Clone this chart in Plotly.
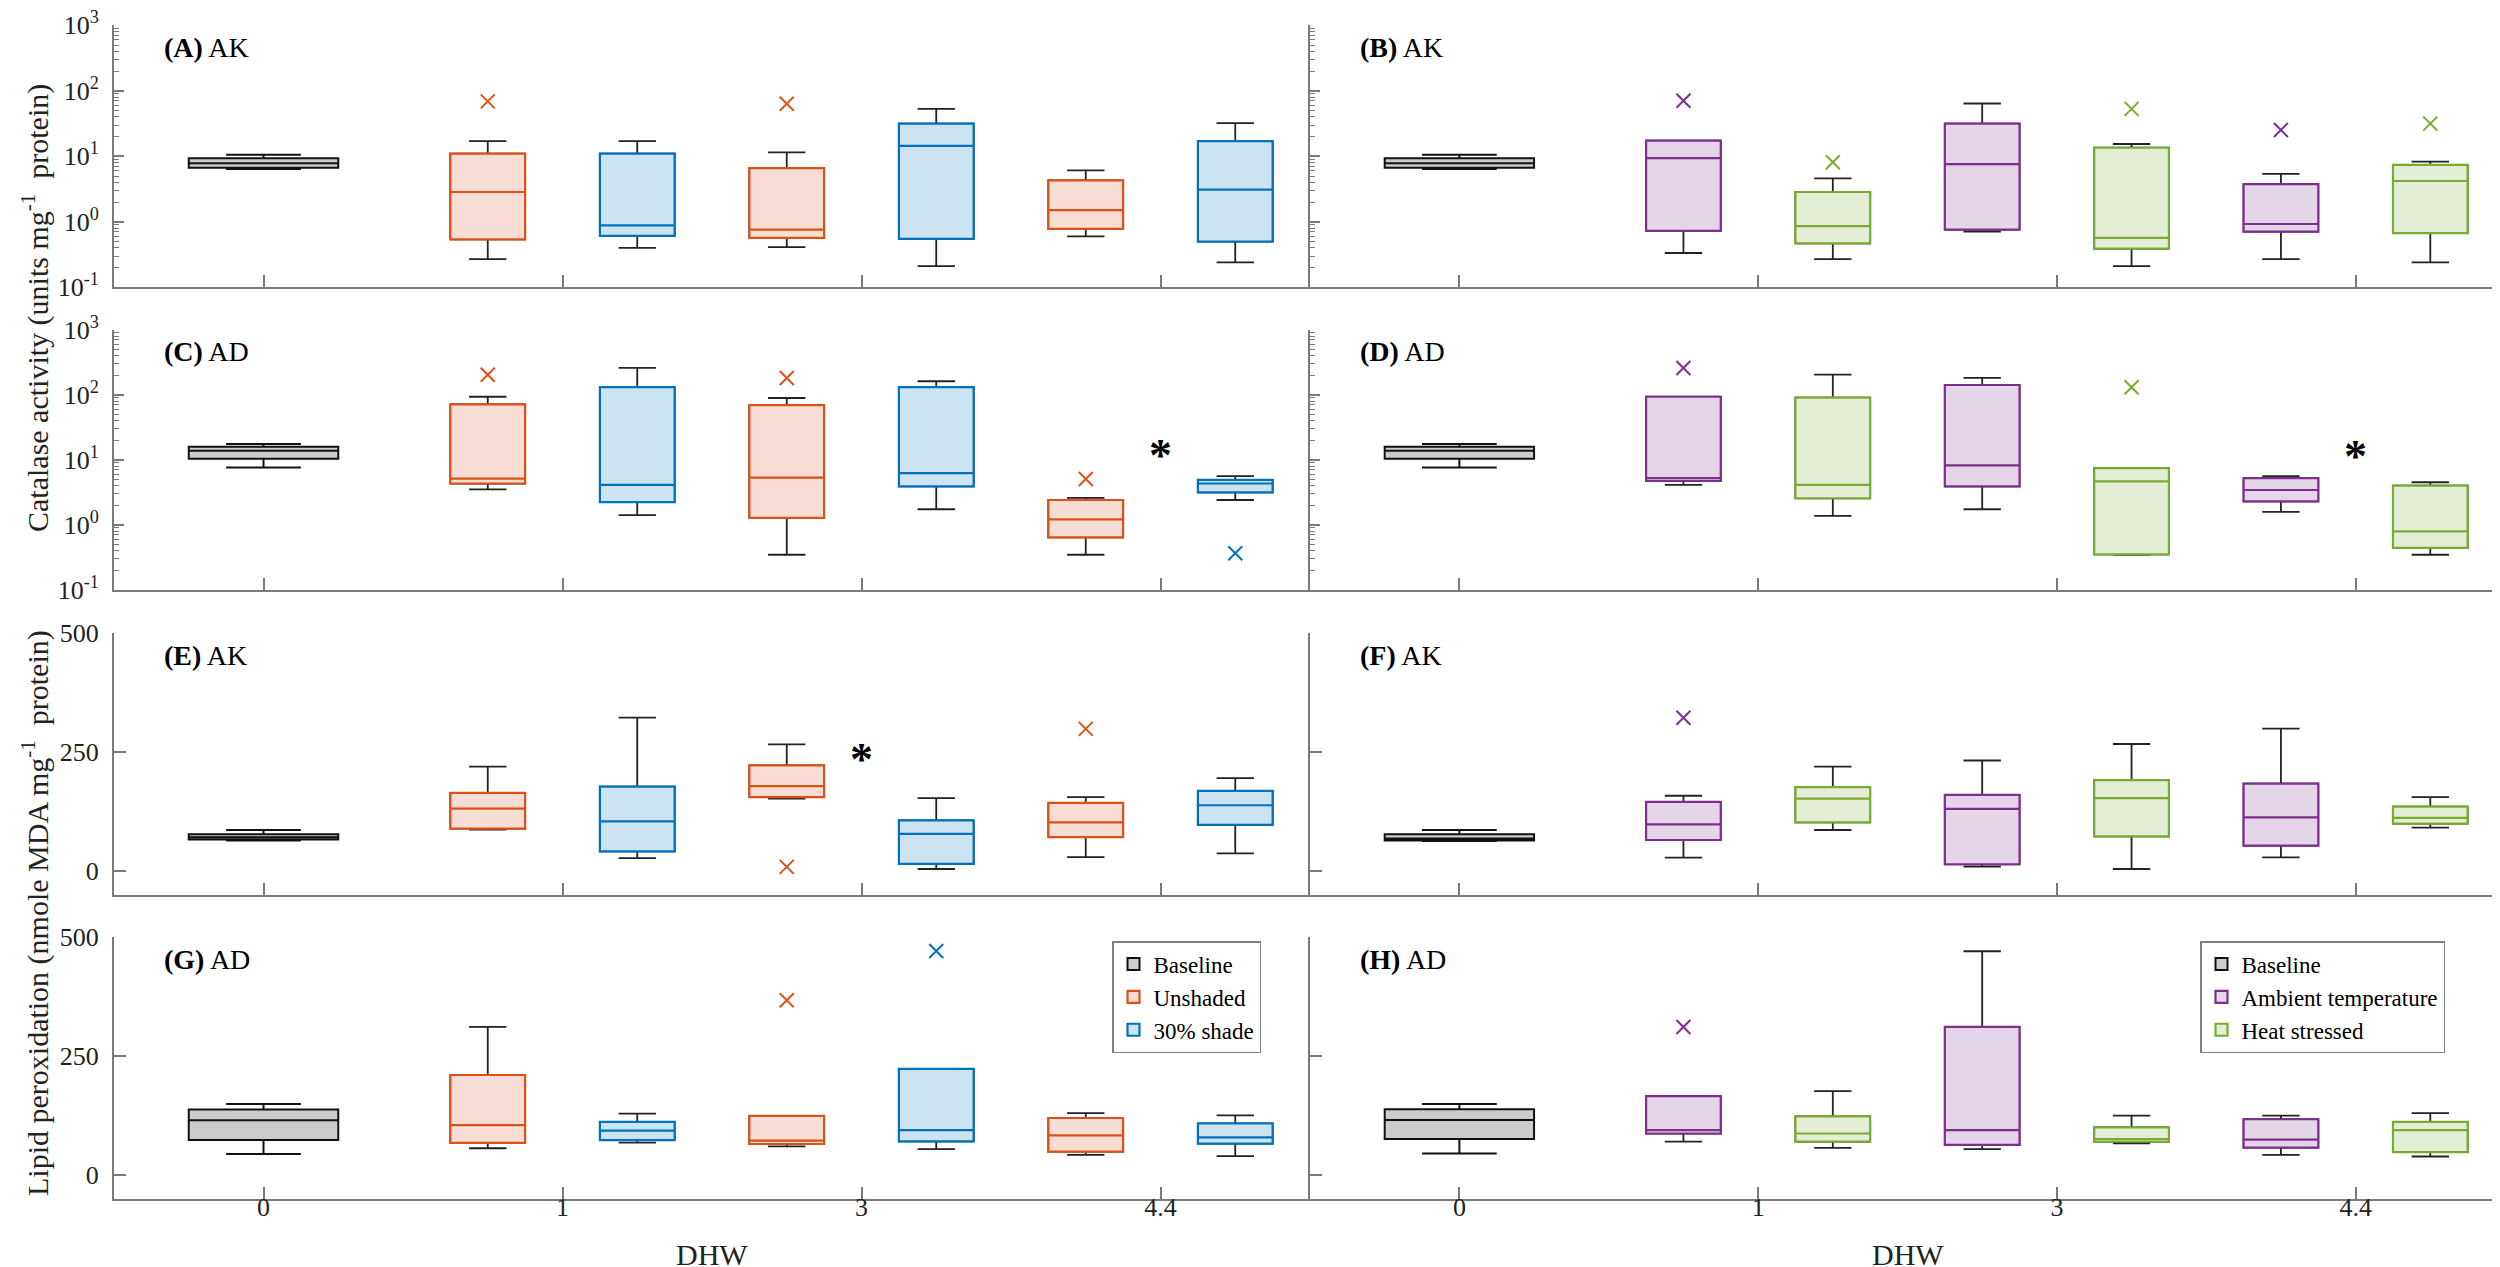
import math
import plotly.graph_objects as go

# ---------------- data ----------------
dhw_labels = ['0', '1', '3', '4.4']
left_groups = ['Baseline', 'Unshaded', '30% shade']
right_groups = ['Baseline', 'Ambient temperature', 'Heat stressed']
panel_letters = ['A', 'B', 'C', 'D', 'E', 'F', 'G', 'H']
panel_species = ['AK', 'AK', 'AD', 'AD', 'AK', 'AK', 'AD', 'AD']

# each box: (lower whisker, Q1, median, Q3, upper whisker)
# order: baseline, trt1@1, trt2@1, trt1@3, trt2@3, trt1@4.4, trt2@4.4
cat_AK_light = [(6.4, 6.7, 7.8, 9.3, 10.6), (0.27, 0.54, 2.85, 11, 17), (0.40, 0.61, 0.885, 11, 17),
                (0.41, 0.57, 0.76, 6.6, 11.5), (0.21, 0.55, 14.4, 31.5, 53), (0.60, 0.78, 1.51, 4.3, 6.1),
                (0.24, 0.50, 3.09, 17, 32)]
cat_AK_temp = [(6.4, 6.7, 7.8, 9.3, 10.6), (0.334, 0.73, 9.4, 17.3, 17.3), (0.27, 0.47, 0.86, 2.85, 4.6),
               (0.71, 0.76, 7.6, 31.5, 64), (0.21, 0.39, 0.57, 13.5, 15.4), (0.27, 0.71, 0.925, 3.77, 5.4),
               (0.24, 0.67, 4.2, 7.4, 8.3)]
cat_AD_light = [(7.6, 10.3, 13.7, 15.8, 17.4), (3.5, 4.3, 5.1, 71, 93), (1.40, 2.23, 4.1, 131, 258),
                (0.345, 1.27, 5.3, 69, 89), (1.73, 3.9, 6.2, 131, 161), (0.345, 0.64, 1.21, 2.40, 2.58),
                (2.4, 3.15, 4.3, 4.9, 5.6)]
cat_AD_temp = [(7.6, 10.3, 13.7, 15.8, 17.4), (4.1, 4.7, 5.2, 93, 93), (1.37, 2.55, 4.1, 90, 203),
               (1.73, 3.9, 8.2, 141, 181), (0.345, 0.35, 4.65, 7.4, 7.4), (1.57, 2.29, 3.42, 5.2, 5.6),
               (0.345, 0.44, 0.79, 3.98, 4.5)]
lpo_AK_light = [(64, 66, 71, 77, 86), (87, 89, 131, 164, 219), (27, 41, 104, 177, 322),
                (152, 155, 178, 222, 266), (4, 14.7, 78, 106, 153), (29, 71, 102, 143, 155),
                (37, 97, 138, 168, 195)]
lpo_AK_temp = [(63, 64, 68, 77, 86), (28, 65, 98, 145, 158), (86, 102, 152, 176, 219),
               (9, 14, 130.5, 160, 232), (4, 72.6, 153, 190.7, 266.7), (28.5, 53, 112.5, 183.6, 299),
               (91, 99.5, 111.6, 135, 155)]
lpo_AD_light = [(44, 73.6, 115, 137.5, 149), (56, 67.3, 104.5, 210, 311), (68, 73, 93, 111.5, 129),
                (60, 65, 72, 124, 124), (54, 70.5, 94, 222.8, 222.8), (42, 49, 83, 119.6, 130),
                (39.6, 65.6, 79, 108, 125)]
lpo_AD_temp = [(45, 75.5, 115.5, 138, 149), (70, 87, 94, 165.5, 165.5), (57, 70, 87, 123, 176),
               (54, 63, 94, 311, 470), (66.5, 70, 75.5, 100, 124.5), (42, 57.4, 74, 117, 124.5),
               (38.7, 48, 94, 111.5, 130)]

# outliers: (box index in the order above, value)
cat_AK_light_out = [(1, 69), (3, 63.5)]
cat_AK_temp_out = [(1, 70.6), (2, 8.1), (4, 53), (5, 25.2), (6, 31.5)]
cat_AD_light_out = [(1, 203), (3, 181), (5, 5.05), (6, 0.363)]
cat_AD_temp_out = [(1, 258), (4, 130)]
lpo_AK_light_out = [(3, 8.4), (5, 298.5)]
lpo_AK_temp_out = [(1, 322)]
lpo_AD_light_out = [(3, 367), (4, 470.6)]
lpo_AD_temp_out = [(1, 311)]

# significance marks: (DHW label, y value)
cat_AD_light_sig = [('4.4', 10.9)]
cat_AD_temp_sig = [('4.4', 10.6)]
lpo_AK_light_sig = [('3', 231)]

panels = [
    (cat_AK_light, cat_AK_light_out, []), (cat_AK_temp, cat_AK_temp_out, []),
    (cat_AD_light, cat_AD_light_out, cat_AD_light_sig), (cat_AD_temp, cat_AD_temp_out, cat_AD_temp_sig),
    (lpo_AK_light, lpo_AK_light_out, lpo_AK_light_sig), (lpo_AK_temp, lpo_AK_temp_out, []),
    (lpo_AD_light, lpo_AD_light_out, []), (lpo_AD_temp, lpo_AD_temp_out, []),
]

# ---------------- style ----------------
W, H = 2500, 1267
FONT = 'Liberation Serif'
AXC = '#7a7a7a'
WHISK = '#222222'
col_left = [('#D95319', '#F7DDD3'), ('#0072BD', '#CCE3F2')]
col_right = [('#7E2F8E', '#E5D5E8'), ('#77AC30', '#E4EED6')]
base_fill = '#CCCCCC'

xdom = [(106 / W, 1302 / W), (1302 / W, 2497 / W)]
ydom_px = [(17.3, 279.3), (321.7, 581.7), (625, 886.7), (929, 1190.7)]


def slot_x(i):
    if i == 0:
        return 0.0
    d = (i + 1) // 2
    return d + (-0.25 if i % 2 == 1 else 0.25)


fig = go.Figure()
annotations = []
layout = {}

for p, (boxes, outs, sigs) in enumerate(panels):
    r, c = divmod(p, 2)
    n = p + 1
    sx = '' if n == 1 else str(n)
    xa, ya = 'x' + sx, 'y' + sx
    is_log = r < 2
    cols = col_left if c == 0 else col_right
    names = left_groups if c == 0 else right_groups
    leg = 'legend' if c == 0 else 'legend2'
    show = (r == 3)

    # baseline box
    b = boxes[0]
    fig.add_trace(go.Box(x=[slot_x(0)], lowerfence=[b[0]], q1=[b[1]], median=[b[2]], q3=[b[3]],
                         upperfence=[b[4]], width=0.5, whiskerwidth=0.5, fillcolor=base_fill,
                         line=dict(color='#111111', width=2), boxpoints=False, name=names[0],
                         showlegend=show, legend=leg, xaxis=xa, yaxis=ya, hoverinfo='skip'))
    for t in range(2):
        idx = [1 + t, 3 + t, 5 + t]
        xs = [slot_x(i) for i in idx]
        lo = [boxes[i][0] for i in idx]
        q1 = [boxes[i][1] for i in idx]
        md = [boxes[i][2] for i in idx]
        q3 = [boxes[i][3] for i in idx]
        hi = [boxes[i][4] for i in idx]
        edge, fill = cols[t]
        # whiskers (black)
        fig.add_trace(go.Box(x=xs, lowerfence=lo, q1=q1, median=md, q3=q3, upperfence=hi,
                             width=0.25, whiskerwidth=0.5, fillcolor='rgba(0,0,0,0)',
                             line=dict(color=WHISK, width=1.8), boxpoints=False, showlegend=False,
                             xaxis=xa, yaxis=ya, hoverinfo='skip'))
        # coloured box
        fig.add_trace(go.Box(x=xs, lowerfence=q1, q1=q1, median=md, q3=q3, upperfence=q3,
                             width=0.25, whiskerwidth=0, fillcolor=fill,
                             line=dict(color=edge, width=2.2), boxpoints=False, name=names[1 + t],
                             showlegend=show, legend=leg, xaxis=xa, yaxis=ya, hoverinfo='skip'))
    # outliers
    for i, v in outs:
        t = 0 if i % 2 == 1 else 1
        edge = cols[t][0]
        fig.add_trace(go.Scatter(x=[slot_x(i)], y=[v], mode='markers',
                                 marker=dict(symbol='x-thin', size=14, line=dict(width=2, color=edge)),
                                 showlegend=False, xaxis=xa, yaxis=ya, hoverinfo='skip'))
    # significance asterisks
    for lab, v in sigs:
        annotations.append(dict(x=dhw_labels.index(lab), y=math.log10(v) if is_log else v,
                                xref=xa, yref=ya, text='<b>*</b>', showarrow=False,
                                font=dict(family=FONT, size=46, color='black'),
                                xanchor='center', yanchor='middle', yshift=2))

    top, bot = ydom_px[r]
    ax_key = 'xaxis' if n == 1 else 'xaxis' + str(n)
    ay_key = 'yaxis' if n == 1 else 'yaxis' + str(n)
    layout[ax_key] = dict(domain=list(xdom[c]), anchor=ya, range=[-0.5, 3.5],
                          tickmode='array', tickvals=[0, 1, 2, 3], ticktext=dhw_labels,
                          showticklabels=(r == 3), ticks='inside', ticklen=12, tickwidth=1.5,
                          tickcolor=AXC, showline=True, linecolor=AXC, linewidth=2,
                          showgrid=False, zeroline=False, automargin=False, ticklabelstandoff=-16,
                          ticklabeloverflow='allow',
                          tickfont=dict(family=FONT, size=26, color='#222'))
    ydict = dict(domain=[1 - bot / H, 1 - top / H], anchor=xa, showline=True, linecolor=AXC,
                 linewidth=2, showgrid=False, zeroline=False, ticks='inside', tickwidth=1.5,
                 tickcolor=AXC, automargin=False, showticklabels=(c == 0), ticklabelstandoff=8,
                 ticklabeloverflow='allow',
                 tickfont=dict(family=FONT, size=26, color='#222'))
    if is_log:
        minor_vals = [k * 10 ** e for e in range(-1, 3) for k in range(2, 10)]
        ydict.update(type='log', range=[-1, 3], tickmode='array',
                     tickvals=[0.1, 1, 10, 100, 1000],
                     ticktext=['10<sup>-1</sup>', '10<sup>0</sup>', '10<sup>1</sup>', '10<sup>2</sup>',
                               '10<sup>3</sup>'],
                     ticklen=10,
                     minor=dict(tickmode='array', tickvals=minor_vals, ticks='inside', ticklen=5,
                                tickcolor=AXC, tickwidth=1.2))
    else:
        ydict.update(range=[-50, 500], tickmode='array', tickvals=[0, 250, 500],
                     ticktext=['0', '250', '500'], ticklen=12)
    layout[ay_key] = ydict

    # panel label
    annotations.append(dict(x=(xdom[c][0] * W + 48) / W, y=1 - (top + 22) / H, xref='paper',
                            yref='paper', text='<b>(%s)</b> %s' % (panel_letters[p], panel_species[p]),
                            showarrow=False, xanchor='left', yanchor='middle',
                            font=dict(family=FONT, size=28, color='black')))

# axis titles
annotations.append(dict(x=27 / W, y=1 - 300 / H, xref='paper', yref='paper', textangle=-90,
                        text='Catalase activity (units mg<sup>-1</sup>  protein)', showarrow=False,
                        xanchor='center', yanchor='middle', font=dict(family=FONT, size=30, color='#222')))
annotations.append(dict(x=27 / W, y=1 - 905 / H, xref='paper', yref='paper', textangle=-90,
                        text='Lipid peroxidation (nmole MDA mg<sup>-1</sup>  protein)', showarrow=False,
                        xanchor='center', yanchor='middle', font=dict(family=FONT, size=30, color='#222')))
for xc in (704, 1900):
    annotations.append(dict(x=xc / W, y=1 - 1265 / H, xref='paper', yref='paper', text='DHW',
                            showarrow=False, xanchor='center', yanchor='bottom',
                            font=dict(family=FONT, size=30, color='#222')))

legend_style = dict(xanchor='left', yanchor='top', bgcolor='white', bordercolor='#7f7f7f',
                    borderwidth=1.5, font=dict(family=FONT, size=23, color='black'),
                    tracegroupgap=0, itemclick=False)
fig.update_layout(
    width=W, height=H, margin=dict(l=0, r=0, t=0, b=0), paper_bgcolor='white',
    plot_bgcolor='white', boxmode='overlay', annotations=annotations,
    legend=dict(x=1104 / W, y=1 - 933 / H, **legend_style),
    legend2=dict(x=2192 / W, y=1 - 933 / H, **legend_style),
    font=dict(family=FONT),
    **layout)

fig.write_html('out.html')
